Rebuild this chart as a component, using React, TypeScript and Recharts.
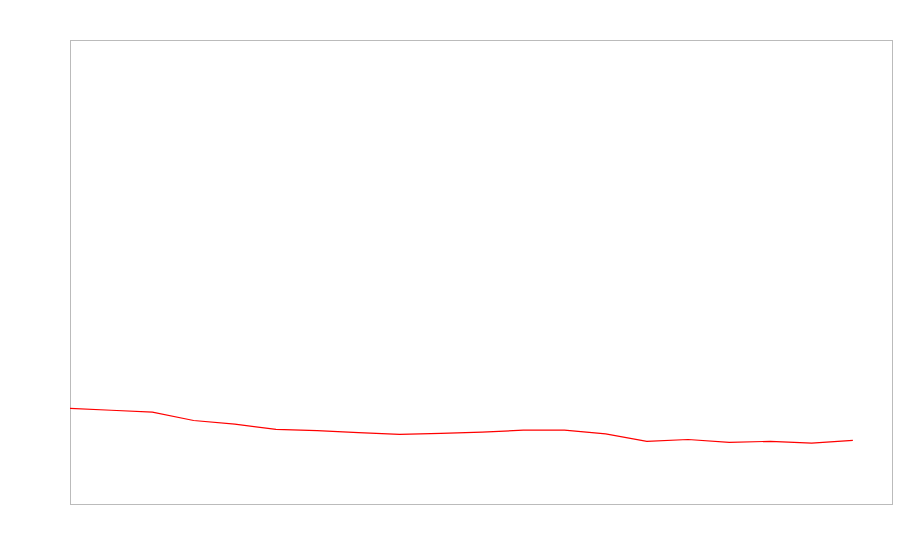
import React from "react";
import { LineChart, Line, XAxis, YAxis, ReferenceArea } from "recharts";

const steps = [0, 1, 2, 3, 4, 5, 6, 7, 8, 9, 10, 11, 12, 13, 14, 15, 16, 17, 18, 19];
const values = [20.6, 20.2, 19.8, 18.0, 17.2, 16.1, 15.8, 15.4, 15.0, 15.2, 15.5, 15.9, 15.9, 15.1, 13.5, 13.9, 13.3, 13.5, 13.1, 13.7];

const data = steps.map((s, i) => ({ x: s, v: values[i] }));

export default function App() {
  return (
    <div style={{ position: "absolute", left: 0, top: 0, background: "#fff" }}>
      <LineChart width={900} height={560} data={data} margin={{ left: 70, top: 40, right: 8, bottom: 56 }}>
        <XAxis dataKey="x" type="number" domain={[0, 19.95]} hide />
        <YAxis domain={[0, 100]} hide />
        <ReferenceArea x1={0} x2={19.95} y1={0} y2={100} fill="none" stroke="#bbbbbb" strokeWidth={1} shapeRendering="crispEdges" />
        <Line type="linear" dataKey="v" stroke="#ff0000" strokeWidth={1.2} dot={false} isAnimationActive={false} />
      </LineChart>
    </div>
  );
}
